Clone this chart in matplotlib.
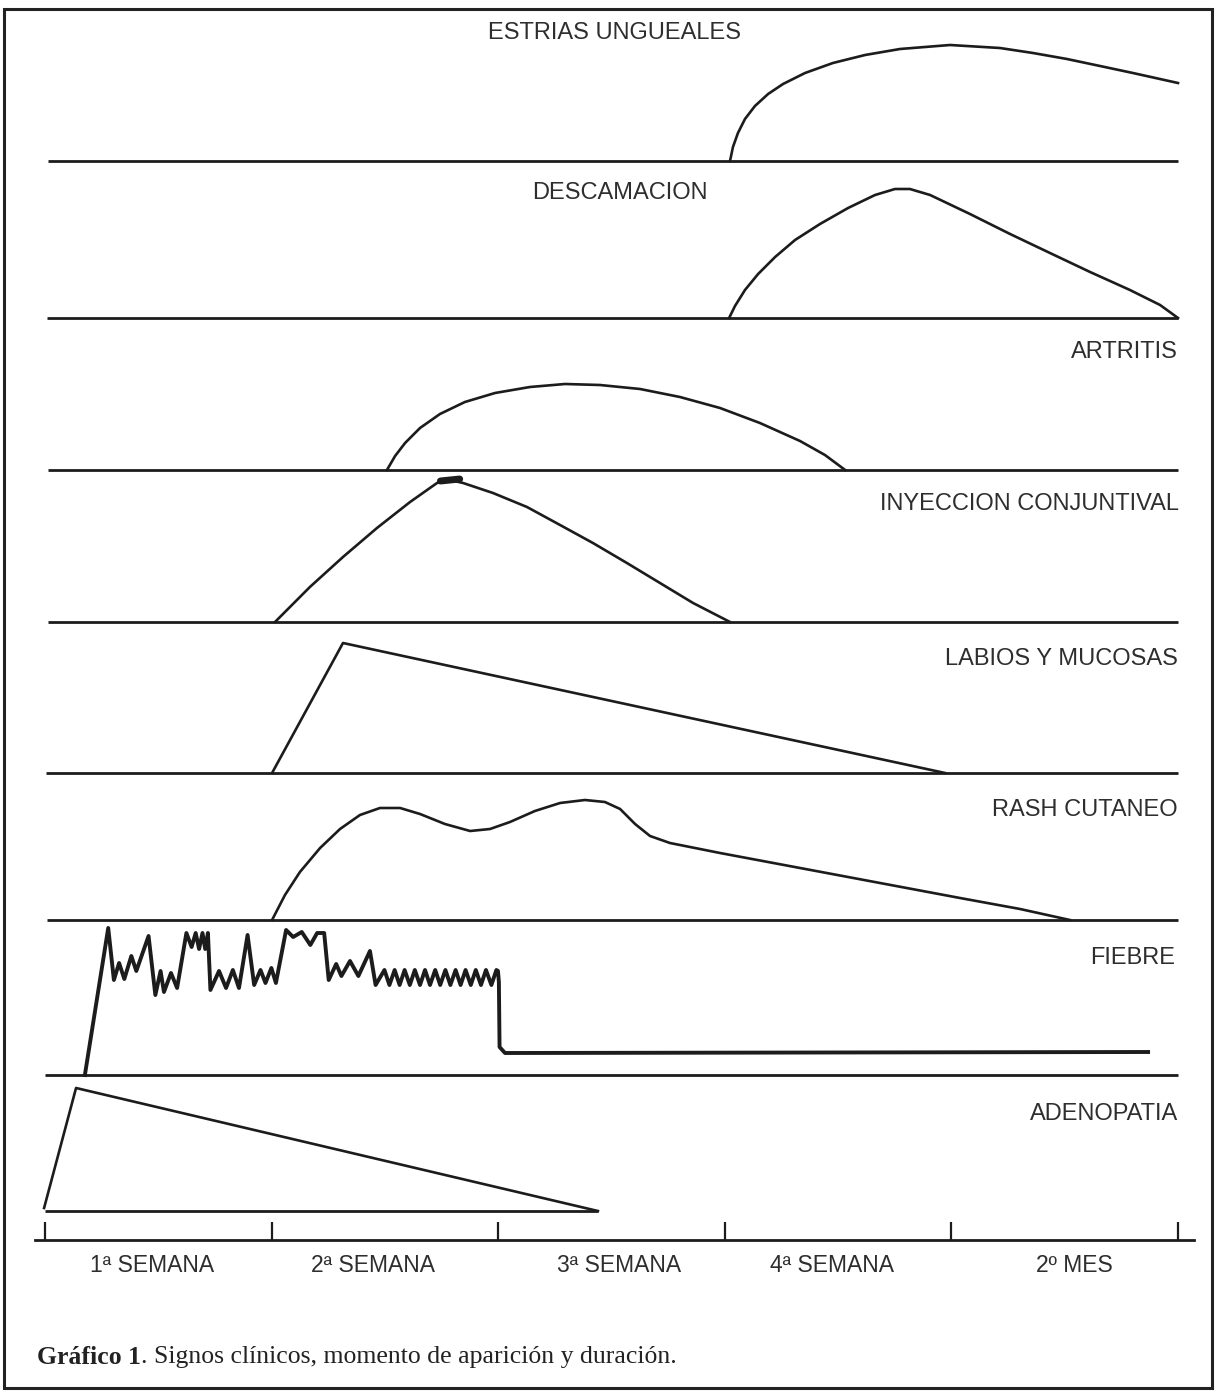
import matplotlib
matplotlib.use("Agg")
import matplotlib.pyplot as plt
from matplotlib.patches import Rectangle

# ---------------- data (x in weeks from onset, y = relative intensity) ----------------
panel_names = ["ESTRIAS UNGUEALES", "DESCAMACION", "ARTRITIS", "INYECCION CONJUNTIVAL",
               "LABIOS Y MUCOSAS", "RASH CUTANEO", "FIEBRE", "ADENOPATIA"]

estrias_x = [3.023, 3.036, 3.058, 3.089, 3.133, 3.191, 3.257, 3.354, 3.477, 3.619, 3.773,
             3.994, 4.214, 4.360, 4.510, 4.656, 4.801, 5.000]
estrias_y = [0, 14, 28, 42, 55, 67, 77, 88, 98, 106, 112, 116, 113, 108, 102, 95, 88, 78]

descam_x = [3.019, 3.045, 3.089, 3.147, 3.222, 3.310, 3.420, 3.544, 3.663, 3.751, 3.817,
            3.906, 4.082, 4.259, 4.435, 4.612, 4.788, 4.921, 5.000]
descam_y = [0, 12, 28, 44, 61, 78, 94, 110, 123, 129, 129, 123, 104, 84, 65, 46, 28, 13, 0]

artritis_x = [1.509, 1.545, 1.589, 1.655, 1.743, 1.853, 1.986, 2.140, 2.295, 2.449, 2.626,
              2.802, 2.979, 3.155, 3.332, 3.442, 3.531]
artritis_y = [0, 14, 27, 42, 56, 68, 77, 83, 86, 85, 81, 73, 62, 47, 29, 15, 0]

inyecc_x = [1.015, 1.169, 1.315, 1.465, 1.611, 1.730, 1.787, 1.845, 1.977, 2.127, 2.273,
            2.418, 2.568, 2.714, 2.860, 3.023]
inyecc_y = [0, 35, 65, 94, 120, 139, 142, 139, 129, 115, 97, 79, 59, 39, 19, 0]

labios_x = [1.002, 1.315, 3.972]
labios_y = [0, 130, 0]

rash_x = [1.002, 1.059, 1.125, 1.214, 1.302, 1.390, 1.478, 1.567, 1.655, 1.765, 1.876,
          1.964, 2.052, 2.162, 2.273, 2.383, 2.471, 2.538, 2.604, 2.670, 2.758, 2.979,
          3.332, 3.685, 4.038, 4.303, 4.523]
rash_y = [0, 25, 48, 72, 91, 105, 112, 112, 106, 96, 89, 91, 98, 109, 117, 120, 118, 111,
          96, 84, 77, 67, 52, 37, 22, 11, 0]

fiebre_x = [0.176, 0.279, 0.304, 0.327, 0.350, 0.381, 0.403, 0.457, 0.487, 0.510, 0.525,
            0.556, 0.583, 0.624, 0.647, 0.665, 0.680, 0.695, 0.707, 0.719, 0.730, 0.768,
            0.799, 0.829, 0.856, 0.894, 0.923, 0.951, 0.973, 0.999, 1.019, 1.064, 1.095,
            1.133, 1.171, 1.201, 1.232, 1.252, 1.285, 1.308, 1.346, 1.383, 1.434, 1.459,
            1.498, 1.520, 1.543, 1.565, 1.587, 1.610, 1.632, 1.655, 1.677, 1.699, 1.722,
            1.744, 1.767, 1.789, 1.812, 1.834, 1.856, 1.879, 1.901, 1.924, 1.946, 1.970,
            1.992, 1.999, 2.003, 2.006, 2.030, 4.868]
fiebre_y = [0, 147, 95, 112, 96, 119, 104, 139, 80, 104, 83,
            102, 87, 142, 128, 142, 126, 142, 126, 142, 85, 104,
            87, 105, 87, 140, 90, 105, 92, 107, 92, 145, 138,
            143, 130, 142, 142, 95, 111, 99, 114, 99, 124, 90,
            105, 90, 105, 90, 105, 90, 105, 90, 105, 90, 105,
            90, 105, 90, 105, 90, 105, 90, 105, 90, 105, 90,
            105, 104, 93, 28, 22, 23]

adeno_x = [-0.004, 0.137, 2.440]
adeno_y = [3, 123, 0]

series_x = [estrias_x, descam_x, artritis_x, inyecc_x, labios_x, rash_x, fiebre_x, adeno_x]
series_y = [estrias_y, descam_y, artritis_y, inyecc_y, labios_y, rash_y, fiebre_y, adeno_y]

baseline_start = [0.013, 0.009, 0.013, 0.013, 0.004, 0.009, 0.0, 0.0]
baseline_end = [5.0, 5.0, 5.0, 5.0, 5.0, 5.0, 5.0, 2.44]

tick_weeks = [0, 1, 2, 3, 4, 5]
period_labels = ["1ª SEMANA", "2ª SEMANA", "3ª SEMANA", "4ª SEMANA", "2º MES"]
period_label_pos = [0.472, 1.447, 2.533, 3.473, 4.541]

caption_bold = "Gráfico 1"
caption_rest = ". Signos clínicos, momento de aparición y duración."

# ---------------- layout (pixels of the 1216 x 1393 canvas) ----------------
W, H = 1216, 1393
X0, X1 = 45, 1178                      # px of week 0 and week 5
baselines_px = [161, 318, 470, 622, 773, 920, 1075, 1211]
label_pos = [(2.515, 128, "center"), (2.537, 125, "center"), (5.0, 118, "right"),
             (5.006, 118, "right"), (5.0, 114, "right"), (5.0, 110, "right"),
             (4.987, 117, "right"), (5.0, 97, "right")]
PANEL_H = 160
INK = "#1c1c1c"
TXT = "#2e2e2e"

fig = plt.figure(figsize=(W / 100, H / 100), dpi=100)
fig.patch.set_facecolor("white")

sans = ["Liberation Sans", "DejaVu Sans"]
serif = ["Liberation Serif", "DejaVu Serif"]

for i in range(8):
    b = baselines_px[i]
    ax = fig.add_axes([X0 / W, (H - b) / H, (X1 - X0) / W, PANEL_H / H])
    ax.set_xlim(0, 5)
    ax.set_ylim(0, PANEL_H)
    ax.axis("off")
    ax.patch.set_alpha(0)
    ax.plot([baseline_start[i], baseline_end[i]], [0, 0], color=INK, lw=2.0,
            solid_capstyle="butt", clip_on=False)
    lw = 2.8 if panel_names[i] == "FIEBRE" else 1.9
    ax.plot(series_x[i], series_y[i], color=INK, lw=lw, clip_on=False,
            solid_joinstyle="round")
    if panel_names[i] == "INYECCION CONJUNTIVAL":
        ax.plot([1.745, 1.83], [141, 143], color=INK, lw=5, solid_capstyle="round")
    lx, ly, ha = label_pos[i]
    ax.text(lx, ly, panel_names[i], ha=ha, va="center", fontsize=17,
            family=sans, color=TXT, clip_on=False)

# time axis
AX_Y = 1240
ax = fig.add_axes([35 / W, (H - AX_Y) / H, (1194 - 35) / W, 40 / H])
ax.set_xlim((35 - X0) / (X1 - X0) * 5, (1194 - X0) / (X1 - X0) * 5)
ax.set_ylim(0, 1)
ax.patch.set_alpha(0)
for s in ["top", "left", "right"]:
    ax.spines[s].set_visible(False)
ax.spines["bottom"].set_linewidth(2.0)
ax.spines["bottom"].set_color(INK)
ax.set_yticks([])
ax.set_xticks(tick_weeks)
ax.set_xticklabels([])
ax.tick_params(axis="x", which="major", direction="in", length=13, width=1.6, color=INK)
ax.set_xticks(period_label_pos, minor=True)
ax.set_xticklabels(period_labels, minor=True)
ax.tick_params(axis="x", which="minor", length=0, pad=10, labelsize=16.5,
               labelcolor=TXT)
for t in ax.get_xticklabels(minor=True):
    t.set_family(sans)

# caption
t1 = fig.text(37 / W, 1 - 1357 / H, caption_bold, fontsize=18.5, fontweight="bold",
              family=serif, va="center", color="#222")
fig.canvas.draw()
bb = t1.get_window_extent()
fig.text(bb.x1 / W, 1 - 1357 / H, caption_rest, fontsize=18.5,
         family=serif, va="center", color="#222")

# frame
fig.patches.append(Rectangle((4 / W, 1 - 1388 / H), (1212 - 4) / W, (1388 - 9) / H,
                             transform=fig.transFigure, fill=False, lw=2.2,
                             edgecolor="#222"))

fig.savefig("out.png", dpi=100, facecolor="white")
